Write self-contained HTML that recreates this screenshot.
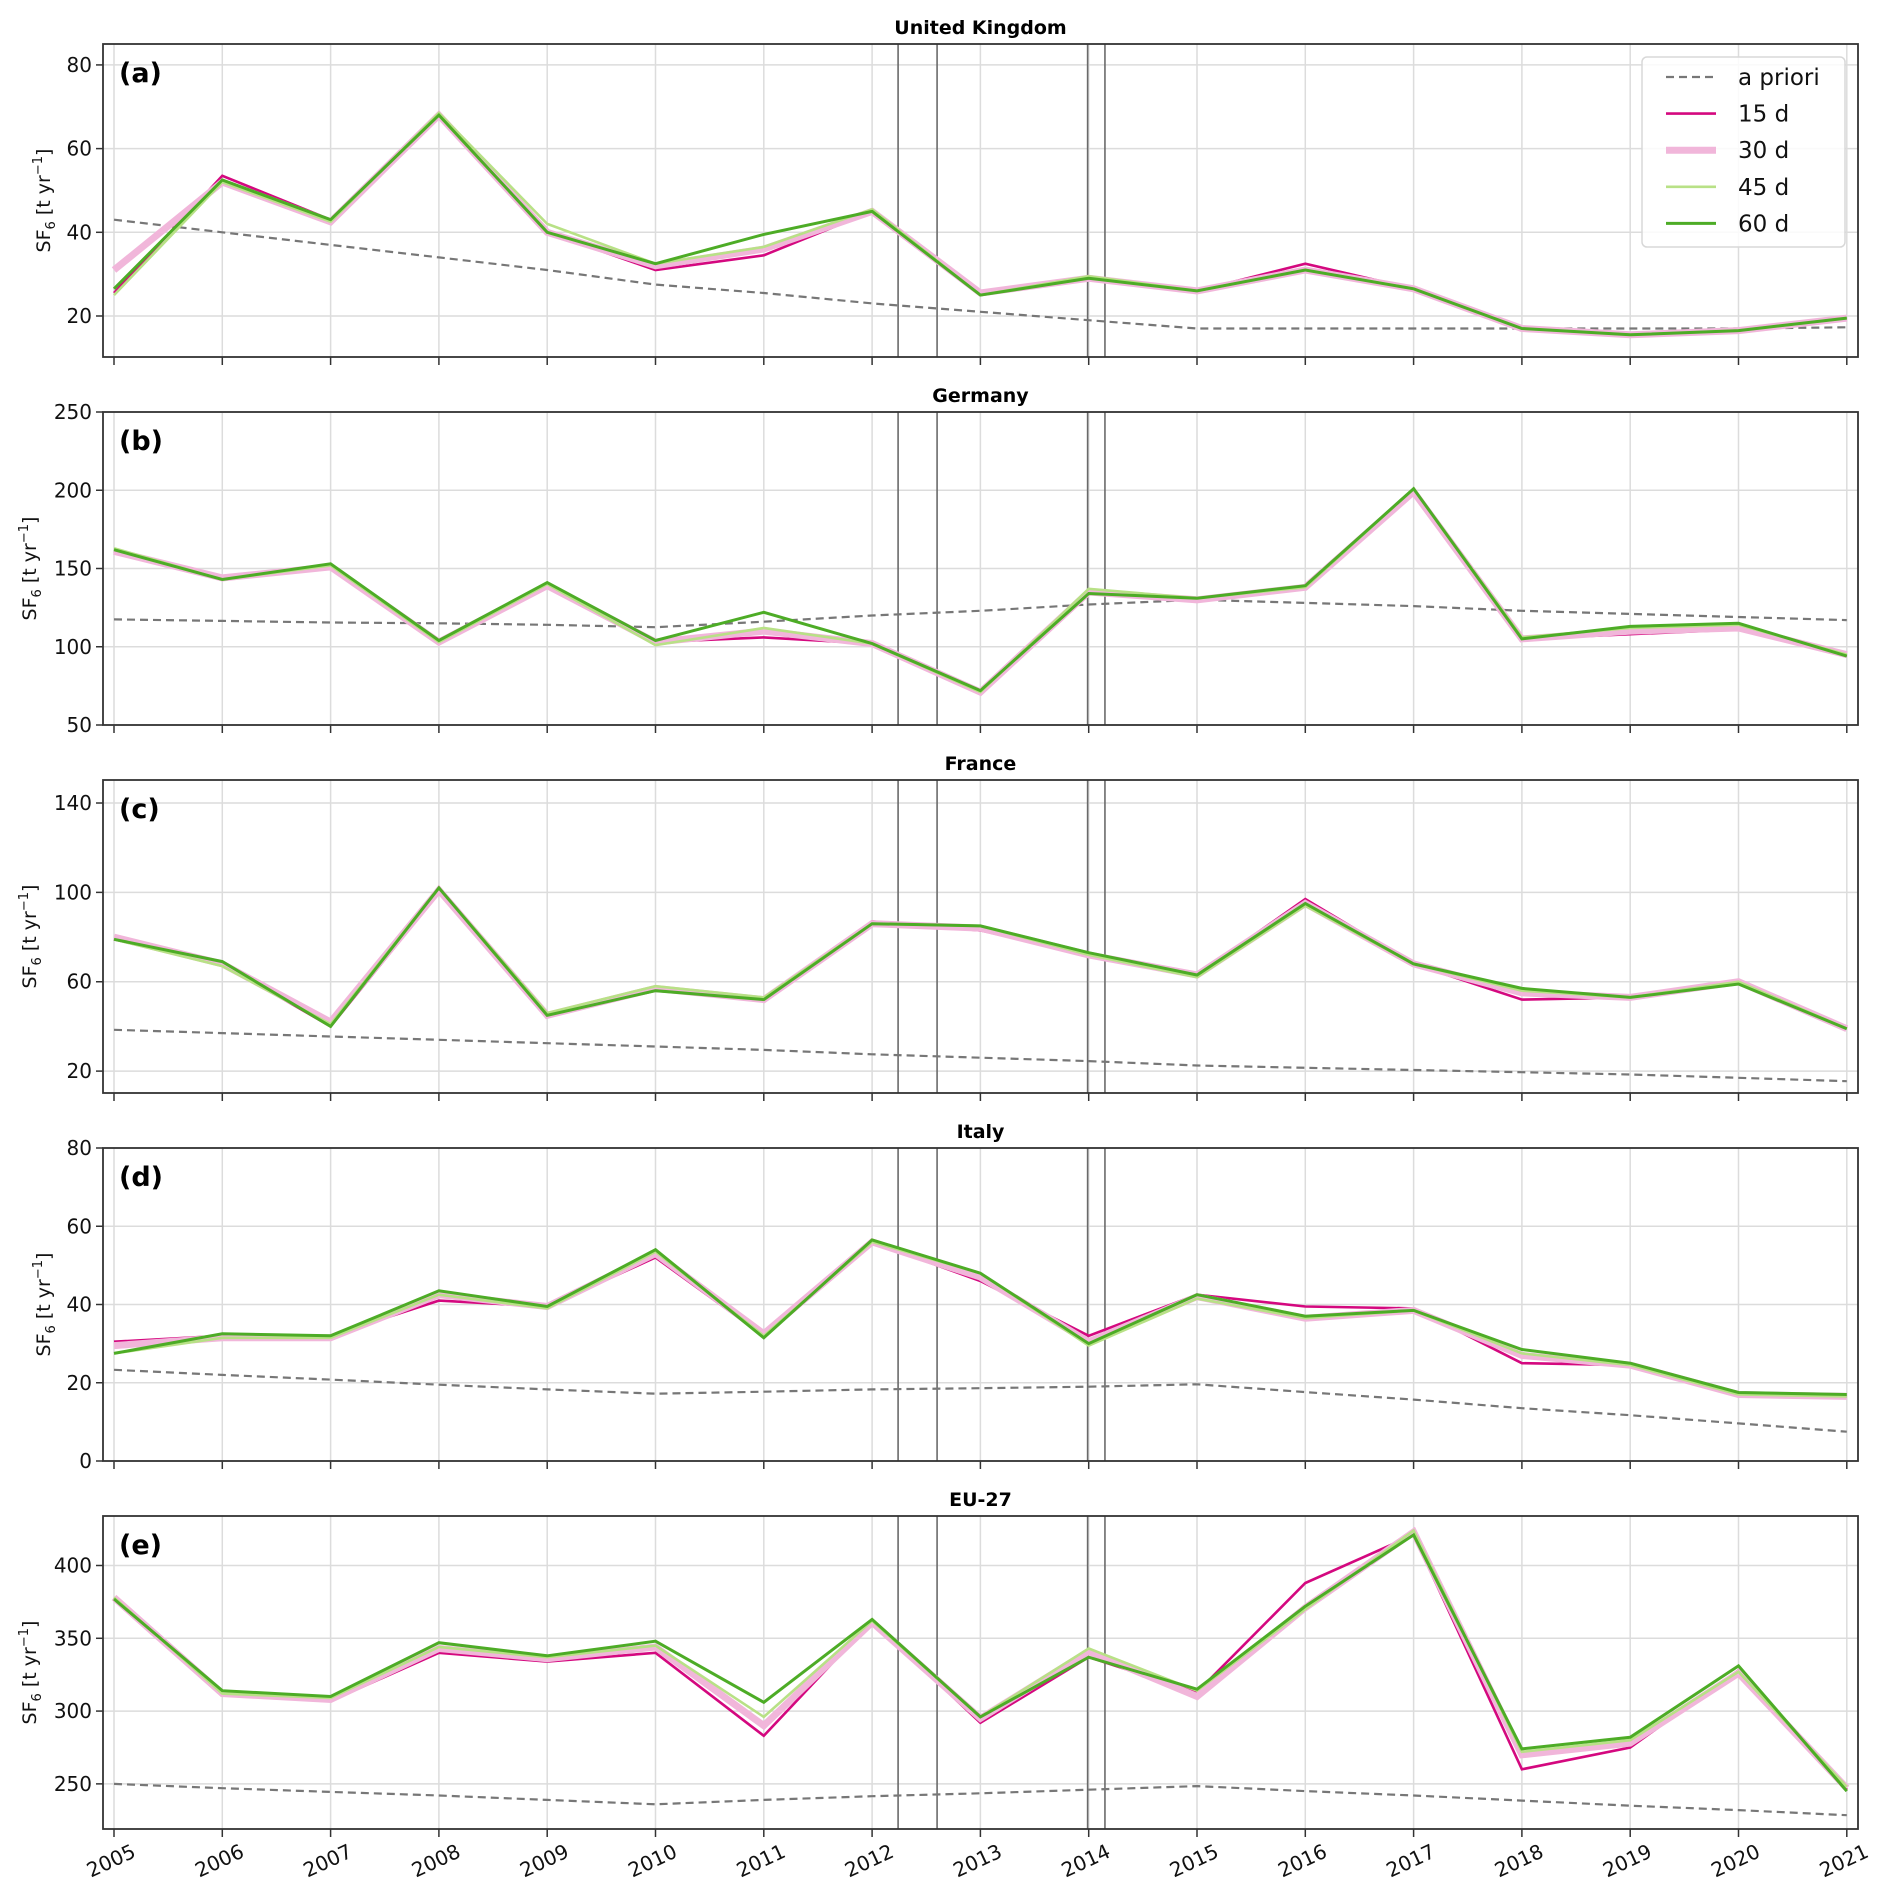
<!DOCTYPE html>
<html><head><meta charset="utf-8"><style>
html,body{margin:0;padding:0;background:#fff}
svg{display:block;font-family:"DejaVu Sans","Liberation Sans",sans-serif}
</style></head><body>
<svg id="chart" width="1892" height="1898" viewBox="0 0 1892 1898" xmlns="http://www.w3.org/2000/svg"></svg>
<script>
const years = [2005,2006,2007,2008,2009,2010,2011,2012,2013,2014,2015,2016,2017,2018,2019,2020,2021];
const panelTitles = ["United Kingdom","Germany","France","Italy","EU-27"];
const panelLetters = ["(a)","(b)","(c)","(d)","(e)"];
const yLimits = [[10.2,85],[50,250],[10.2,150.3],[0,80],[219,434]];
const yTicks = [[20,40,60,80],[50,100,150,200,250],[20,60,100,140],[0,20,40,60,80],[250,300,350,400]];
const windows = [2012.24,2012.6,2013.99,2014.15];
const seriesNames = ["a priori","15 d","30 d","45 d","60 d"];

const ukPrior = [43,40,37,34,31,27.5,25.5,23,21,19,17,17,17,17,17,17,17.3];
const uk15 = [25.5,53.5,43,68,40,31,34.5,45,25,29,26,32.5,26.5,17,15.5,16.5,19.5];
const uk30 = [31,52,42.5,68,40,32,36,45,25.5,29,26,31,26.5,17,15.5,16.5,19.5];
const uk45 = [25,52,42.5,68.5,42,32.5,36.5,45.5,25,29.5,26,31,26.5,17,15.5,16.5,19.5];
const uk60 = [26.5,52.5,43,68,40,32.5,39.5,45,25,29,26,31,26.5,17,15.5,16.5,19.5];

const dePrior = [117.5,116.5,115.5,115,114,112.5,116,120,123,127,130,128,126,123,121,119,117];
const de15 = [161,144,151,102,138,103,106,102,72,134,129,138,198,105,108,111,94];
const de30 = [161,144,151,103,139,103,110,102,71,135,130,138,199,105,110,112,95];
const de45 = [163,143,152,103,140,101,112,102,71,137,131,138,201,106,112,114,95];
const de60 = [162,143,153,104,141,104,122,102,72,134,131,139,201,105,113,115,94];

const frPrior = [38.5,37,35.5,34,32.5,31,29.5,27.5,26,24.5,22.5,21.5,20.5,19.5,18.5,17,15.5];
const fr15 = [79,68,40,100,45,56,52,87,83,72,63,97,68,52,53,60,39];
const fr30 = [80,68,42,101,45,57,52,86,84,72,63,95,68,55,53,60,39];
const fr45 = [79,67,41,102,46,58,53,86,85,72,62,94,68,56,53,60,39];
const fr60 = [79,69,40,102,45,56,52,86,85,73,63,95,68,57,53,59,39];

const itPrior = [23.3,22,20.8,19.5,18.3,17.2,17.7,18.3,18.6,19,19.6,17.6,15.7,13.5,11.7,9.6,7.5];
const it15 = [30.5,32,32,41,39.5,52,32,56,46,32,42.5,39.5,39,25,24.5,17,16.5];
const it30 = [29.5,31.5,31.5,42.5,39.5,53,32.5,56,47,30.5,42,36.5,38.5,27,24.5,17,16.5];
const it45 = [27.5,31.5,31.5,42.5,39,53.5,32,56,48,29.5,41.5,36.5,38.5,27.5,24.5,17,16.5];
const it60 = [27.5,32.5,32,43.5,39.5,54,31.5,56.5,48,30,42.5,37,38.5,28.5,25,17.5,17];

const euPrior = [250,247,244.5,242,239,236,239,241.5,243.5,246,248.5,245,242,238.5,235,232,228.5];
const eu15 = [378,313,307,340,334,340,283,362,292,337,313,388,421,260,275,328,246];
const eu30 = [378,312,308,343,336,344,290,361,295,341,310,371,423,270,278,326,247];
const eu45 = [378,312,309,344,337,345,296,362,296,343,314,370,424,272,280,327,248];
const eu60 = [377,314,310,347,338,348,306,363,296,337,315,372,421,274,282,331,245];

const panelData = [
  [ukPrior,uk15,uk30,uk45,uk60],
  [dePrior,de15,de30,de45,de60],
  [frPrior,fr15,fr30,fr45,fr60],
  [itPrior,it15,it30,it45,it60],
  [euPrior,eu15,eu30,eu45,eu60]
];

const NS = "http://www.w3.org/2000/svg";
const svg = document.getElementById("chart");
const L = 103, R = 1858, H = 313, GAP = 368;
const styles = [
  {c:"#777777",w:2.2,d:"8,5"},
  {c:"#d4087f",w:2.6,d:""},
  {c:"#f1b6da",w:7,d:""},
  {c:"#b8e186",w:2.6,d:""},
  {c:"#4dac26",w:3,d:""}
];
const slug = ["a-priori","15d","30d","45d","60d"];
function xScale(yr){ return 114 + (yr-2005)*108.3; }
function mk(tag, attrs, parent){
  const e = document.createElementNS(NS, tag);
  for (const k in attrs) e.setAttribute(k, attrs[k]);
  (parent||svg).appendChild(e);
  return e;
}

for (let p=0;p<5;p++){
  const top = 44 + p*GAP, bot = top + H;
  const [y0,y1] = yLimits[p];
  const yS = v => bot - (v-y0)/(y1-y0)*H;
  const g = mk("g",{});
  
  

  years.forEach(yr=>{
    const l = mk("line",{x1:xScale(yr),x2:xScale(yr),y1:top,y2:bot,stroke:"#dcdcdc","stroke-width":1.5},g);
    
    
    const t = mk("line",{x1:xScale(yr),x2:xScale(yr),y1:bot,y2:bot+8,stroke:"#333","stroke-width":1.5},g);
    
    
  });
  yTicks[p].forEach(v=>{
    const y = yS(v);
    const l = mk("line",{x1:L,x2:R,y1:y,y2:y,stroke:"#dcdcdc","stroke-width":1.5},g);
    
    
    const t = mk("line",{x1:L-7,x2:L,y1:y,y2:y,stroke:"#333","stroke-width":1.5},g);
    
    
    const tx = mk("text",{x:L-11,y:y+7,"text-anchor":"end","font-size":20,fill:"#111"},g);
    tx.textContent = v;
    
    
  });
  windows.forEach(w=>{
    const l = mk("line",{x1:xScale(w),x2:xScale(w),y1:top,y2:bot,stroke:"#6a6a6a","stroke-width":1.6},g);
    
    
  });
  panelData[p].forEach((arr,si)=>{
    const pts = arr.map((v,i)=>xScale(years[i]).toFixed(1)+","+yS(v).toFixed(1)).join(" ");
    const s = styles[si];
    const pl = mk("polyline",{points:pts,fill:"none",stroke:s.c,"stroke-width":s.w,"stroke-dasharray":s.d,"stroke-linejoin":"miter"},g);
    
    
  });
  const fr = mk("rect",{x:L,y:top,width:R-L,height:H,fill:"none",stroke:"#333","stroke-width":1.8},g);
  
  
  const ti = mk("text",{x:(L+R)/2,y:top-10,"text-anchor":"middle","font-size":19,"font-weight":"bold",fill:"#000"},g);
  ti.textContent = panelTitles[p];
  
  
  const le = mk("text",{x:119,y:top+38,"font-size":27,"font-weight":"bold",fill:"#000"},g);
  le.textContent = panelLetters[p];
  
  
  const lx = (p===0||p===3) ? 50 : 36;
  const yl = mk("text",{x:0,y:0,"font-size":19,fill:"#111","text-anchor":"middle",transform:`translate(${lx},${(top+bot)/2}) rotate(-90)`},g);
  yl.innerHTML = 'SF<tspan font-size="13" dy="5">6</tspan><tspan dy="-5"> [t yr</tspan><tspan font-size="13" dy="-8">−1</tspan><tspan dy="8">]</tspan>';
  
  
  if (p===4){
    years.forEach(yr=>{
      const x = xScale(yr);
      const t = mk("text",{x:0,y:0,"font-size":20,fill:"#111","text-anchor":"middle",transform:`translate(${x},${bot+38}) rotate(-25)`},g);
      t.textContent = yr;
      
      
    });
  }
  if (p===0){
    const lg = mk("g",{});
    
    
    mk("rect",{x:1642,y:57,width:203,height:190,rx:5,fill:"#fff","fill-opacity":0.85,stroke:"#d8d8d8","stroke-width":1.5},lg);
    seriesNames.forEach((n,si)=>{
      const y = 77 + si*36.6;
      const s = styles[si];
      const ln = mk("line",{x1:1666,x2:1716,y1:y,y2:y,stroke:s.c,"stroke-width":s.w,"stroke-dasharray":s.d},lg);
      
      
      const t = mk("text",{x:1738,y:y+8,"font-size":23,fill:"#111"},lg);
      t.textContent = n;
      
      
    });
  }
}
</script>
</body></html>
